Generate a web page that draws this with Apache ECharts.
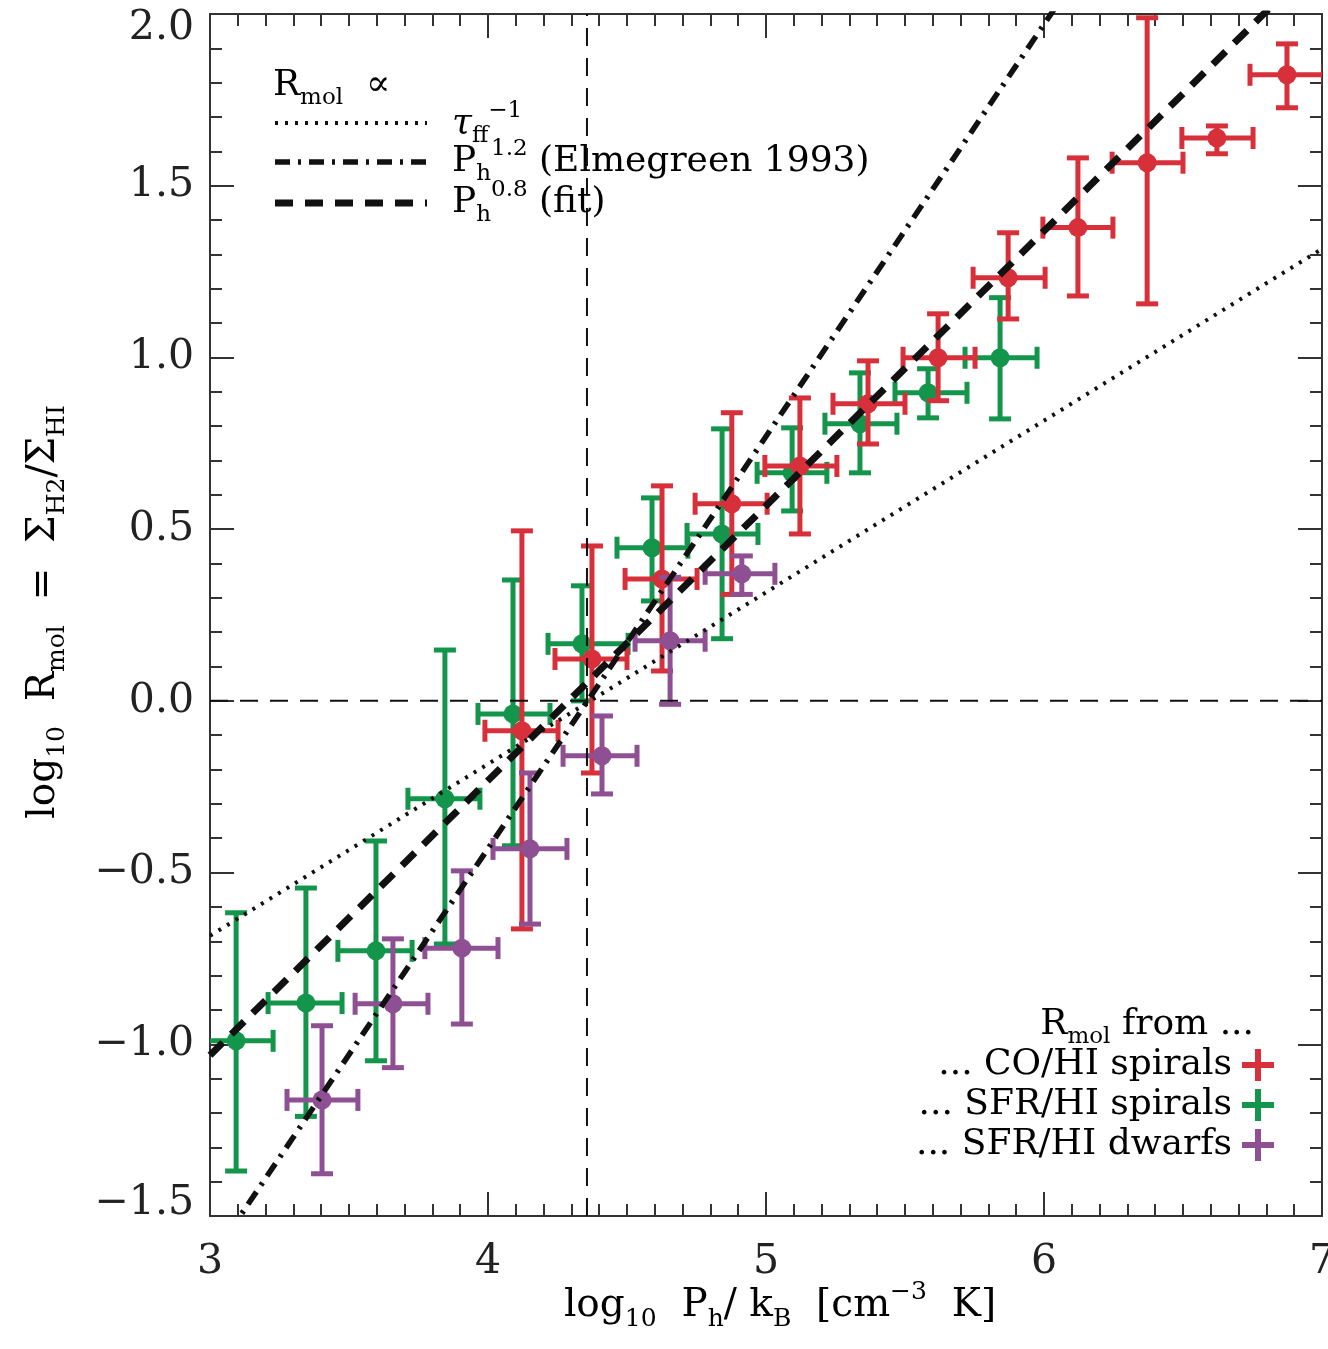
<!DOCTYPE html>
<html>
<head>
<meta charset="utf-8">
<title>R_mol vs P_h</title>
<script src="https://cdn.jsdelivr.net/npm/echarts@6/dist/echarts.min.js"></script>
<style>
  html, body { margin: 0; padding: 0; background: #fff; }
  #chart { width: 1328px; height: 1349px; }
</style>
</head>
<body>
<div id="chart"></div>
<script>
// each row: [log Ph/kB, log Rmol, x low, x high, y low, y high]
var coSpirals = [
  [4.122, -0.087, 3.989, 4.252, -0.664, 0.495],
  [4.374, 0.122, 4.241, 4.500, -0.210, 0.451],
  [4.626, 0.355, 4.493, 4.752, 0.087, 0.626],
  [4.877, 0.574, 4.745, 5.004, 0.310, 0.839],
  [5.122, 0.684, 4.996, 5.255, 0.486, 0.882],
  [5.367, 0.865, 5.241, 5.500, 0.748, 0.990],
  [5.619, 0.999, 5.493, 5.752, 0.874, 1.127],
  [5.871, 1.232, 5.745, 6.004, 1.112, 1.363],
  [6.122, 1.378, 5.996, 6.248, 1.179, 1.581],
  [6.371, 1.567, 6.245, 6.500, 1.156, 1.989],
  [6.622, 1.639, 6.496, 6.752, 1.593, 1.674],
  [6.874, 1.823, 6.741, 7.007, 1.727, 1.913]
];
var sfrSpirals = [
  [3.094, -0.990, 2.960, 3.227, -1.369, -0.617],
  [3.345, -0.880, 3.209, 3.475, -1.210, -0.545],
  [3.597, -0.728, 3.460, 3.727, -1.048, -0.408],
  [3.845, -0.285, 3.712, 3.971, -0.708, 0.148],
  [4.090, -0.038, 3.964, 4.223, -0.422, 0.352],
  [4.338, 0.166, 4.216, 4.504, 0.000, 0.335],
  [4.590, 0.446, 4.464, 4.719, 0.291, 0.591],
  [4.842, 0.486, 4.716, 4.971, 0.181, 0.792],
  [5.094, 0.664, 4.968, 5.219, 0.553, 0.795],
  [5.338, 0.807, 5.212, 5.471, 0.664, 0.955],
  [5.583, 0.897, 5.464, 5.723, 0.824, 0.967],
  [5.842, 0.999, 5.716, 5.975, 0.821, 1.174]
];
var sfrDwarfs = [
  [3.403, -1.162, 3.277, 3.532, -1.377, -0.946],
  [3.658, -0.882, 3.522, 3.784, -1.068, -0.693],
  [3.906, -0.720, 3.773, 4.036, -0.941, -0.495],
  [4.151, -0.431, 4.018, 4.284, -0.650, -0.210],
  [4.410, -0.160, 4.270, 4.536, -0.271, -0.044],
  [4.655, 0.175, 4.529, 4.781, -0.010, 0.360],
  [4.913, 0.370, 4.781, 5.032, 0.310, 0.422]
];

// model relations (end points)
var tauLine = [[3.0, -0.684], [7.0, 1.316]];
var elmegreenLine = [[3.0, -1.630], [6.2, 2.210]];
var fitLine = [[3.0, -1.032], [7.0, 2.168]];
var pressureMark = [[4.356, -1.5], [4.356, 2.0]];
var zeroMark = [[3.0, 0.0], [7.0, 0.0]];

var FONT = 'DejaVu Serif';
var INK = '#222';
var RED = '#d8303a';
var GREEN = '#13964b';
var PURPLE = '#8f4f93';

var rich = {
  n: { fontFamily: FONT, fontSize: 36, lineHeight: 48, color: INK },
  i: { fontFamily: FONT, fontSize: 36, lineHeight: 48, color: INK, fontStyle: 'italic' },
  s: { fontFamily: FONT, fontSize: 23, lineHeight: 23, verticalAlign: 'bottom', color: INK },
  p: { fontFamily: FONT, fontSize: 23, lineHeight: 23, verticalAlign: 'top', color: INK }
};
var richBig = {
  n: { fontFamily: FONT, fontSize: 39, lineHeight: 52, color: INK },
  s: { fontFamily: FONT, fontSize: 25, lineHeight: 25, verticalAlign: 'bottom', color: INK },
  p: { fontFamily: FONT, fontSize: 25, lineHeight: 25, verticalAlign: 'top', color: INK }
};

function errorBars(color) {
  return function (params, api) {
    var c = api.coord([api.value(0), api.value(1)]);
    var xl = api.coord([api.value(2), api.value(1)]);
    var xh = api.coord([api.value(3), api.value(1)]);
    var yl = api.coord([api.value(0), api.value(4)]);
    var yh = api.coord([api.value(0), api.value(5)]);
    var cap = 11;
    var st = { stroke: color, lineWidth: 5 };
    return {
      type: 'group',
      children: [
        { type: 'line', shape: { x1: xl[0], y1: c[1], x2: xh[0], y2: c[1] }, style: st },
        { type: 'line', shape: { x1: c[0], y1: yl[1], x2: c[0], y2: yh[1] }, style: st },
        { type: 'line', shape: { x1: xl[0], y1: c[1] - cap, x2: xl[0], y2: c[1] + cap }, style: st },
        { type: 'line', shape: { x1: xh[0], y1: c[1] - cap, x2: xh[0], y2: c[1] + cap }, style: st },
        { type: 'line', shape: { x1: c[0] - cap, y1: yl[1], x2: c[0] + cap, y2: yl[1] }, style: st },
        { type: 'line', shape: { x1: c[0] - cap, y1: yh[1], x2: c[0] + cap, y2: yh[1] }, style: st },
        { type: 'circle', shape: { cx: c[0], cy: c[1], r: 9.5 }, style: { fill: color } }
      ]
    };
  };
}

function pointSeries(name, data, color) {
  return {
    name: name,
    type: 'custom',
    renderItem: errorBars(color),
    data: data,
    encode: { x: 0, y: 1 },
    clip: true,
    z: 3
  };
}

function modelSeries(data, width, dash, z) {
  return {
    type: 'line',
    data: data,
    symbol: 'none',
    clip: true,
    silent: true,
    z: z,
    lineStyle: { color: '#111', width: width, type: dash, cap: 'butt' }
  };
}

function axisCommon(showLabel, pos, interval, minorSplit) {
  return {
    type: 'value',
    position: pos,
    interval: interval,
    axisLine: { show: true, onZero: false, lineStyle: { color: '#333', width: 2 } },
    axisTick: { show: true, inside: true, length: 24, lineStyle: { color: '#333', width: 2 } },
    minorTick: { show: true, splitNumber: minorSplit, length: 12, lineStyle: { color: '#333', width: 2 } },
    splitLine: { show: false },
    axisLabel: { show: showLabel, color: INK, fontFamily: FONT, fontSize: 41 }
  };
}

var xBottom = axisCommon(true, 'bottom', 1, 10);
xBottom.min = 3; xBottom.max = 7;
xBottom.axisLabel.margin = 26;
var xTop = axisCommon(false, 'top', 1, 10);
xTop.min = 3; xTop.max = 7;
var yLeft = axisCommon(true, 'left', 0.5, 5);
yLeft.min = -1.5; yLeft.max = 2.0;
yLeft.axisLabel.margin = 16;
// the end labels sit inside the frame, as in the original plot
yLeft.axisLabel.rich = {
  hi: { fontFamily: FONT, fontSize: 41, color: INK, padding: [28, 0, 0, 0] },
  lo: { fontFamily: FONT, fontSize: 41, color: INK, padding: [0, 0, 26, 0] }
};
yLeft.axisLabel.formatter = function (v) {
  var s = v.toFixed(1).replace('-', '\u2212');
  if (v >= 2) return '{hi|' + s + '}';
  if (v <= -1.5) return '{lo|' + s + '}';
  return s;
};
var yRight = axisCommon(false, 'right', 0.5, 5);
yRight.min = -1.5; yRight.max = 2.0;

function legendCross(cx, cy, color) {
  return {
    type: 'group',
    children: [
      { type: 'rect', shape: { x: cx - 16, y: cy - 3, width: 32, height: 6 }, style: { fill: color } },
      { type: 'rect', shape: { x: cx - 3, y: cy - 16, width: 6, height: 32 }, style: { fill: color } }
    ]
  };
}

function sampleLine(y, width, dash) {
  return {
    type: 'line',
    shape: { x1: 275, y1: y, x2: 427, y2: y },
    style: { stroke: '#111', lineWidth: width, lineDash: dash }
  };
}

function label(x, y, text, align, richStyle, rotation) {
  return {
    type: 'text',
    x: x, y: y,
    rotation: rotation || 0,
    style: {
      text: text,
      rich: richStyle || rich,
      align: align || 'left',
      verticalAlign: 'middle'
    }
  };
}

var chart = echarts.init(document.getElementById('chart'));
chart.setOption({
  animation: false,
  backgroundColor: '#fff',
  grid: { left: 210, right: 6, top: 14, bottom: 133, containLabel: false, outerBoundsMode: 'none' },
  xAxis: [xBottom, xTop],
  yAxis: [yLeft, yRight],
  series: [
    pointSeries('SFR/HI spirals', sfrSpirals, GREEN),
    pointSeries('CO/HI spirals', coSpirals, RED),
    pointSeries('SFR/HI dwarfs', sfrDwarfs, PURPLE),
    modelSeries(pressureMark, 2, [18, 12], 4),
    modelSeries(zeroMark, 2, [18, 12], 4),
    modelSeries(tauLine, 4, [3, 7], 5),
    modelSeries(elmegreenLine, 5.5, [15, 8, 3, 8], 5),
    modelSeries(fitLine, 7, [18, 12], 5)
  ],
  graphic: [
    label(780, 1306, '{n|log}{s|10}{n|  P}{s|h}{n|/ k}{s|B}{n|  [cm}{p|\u22123}{n|  K]}', 'center', richBig),
    label(44, 612, '{n|log}{s|10}{n|  R}{s|mol}{n|  =  \u03a3}{s|H2}{n|/\u03a3}{s|HI}', 'center', richBig, Math.PI / 2),
    label(273, 86, '{n|R}{s|mol}{n|  \u221d}', 'left'),
    label(452, 124, '{i|\u03c4}{s|ff}{p|\u22121}', 'left'),
    label(452, 162, '{n|P}{s|h}{p|1.2}{n| (Elmegreen 1993)}', 'left'),
    label(452, 203, '{n|P}{s|h}{p|0.8}{n| (fit)}', 'left'),
    sampleLine(123, 4, [3, 7]),
    sampleLine(162, 5.5, [15, 8, 3, 8]),
    sampleLine(203, 7, [18, 12]),
    label(1254, 1025, '{n|R}{s|mol}{n| from ...}', 'right'),
    label(1232, 1065, '{n|... CO/HI spirals}', 'right'),
    label(1232, 1105, '{n|... SFR/HI spirals}', 'right'),
    label(1232, 1145, '{n|... SFR/HI dwarfs}', 'right'),
    legendCross(1258, 1065, RED),
    legendCross(1258, 1105, GREEN),
    legendCross(1258, 1145, PURPLE)
  ]
});
</script>
</body>
</html>
